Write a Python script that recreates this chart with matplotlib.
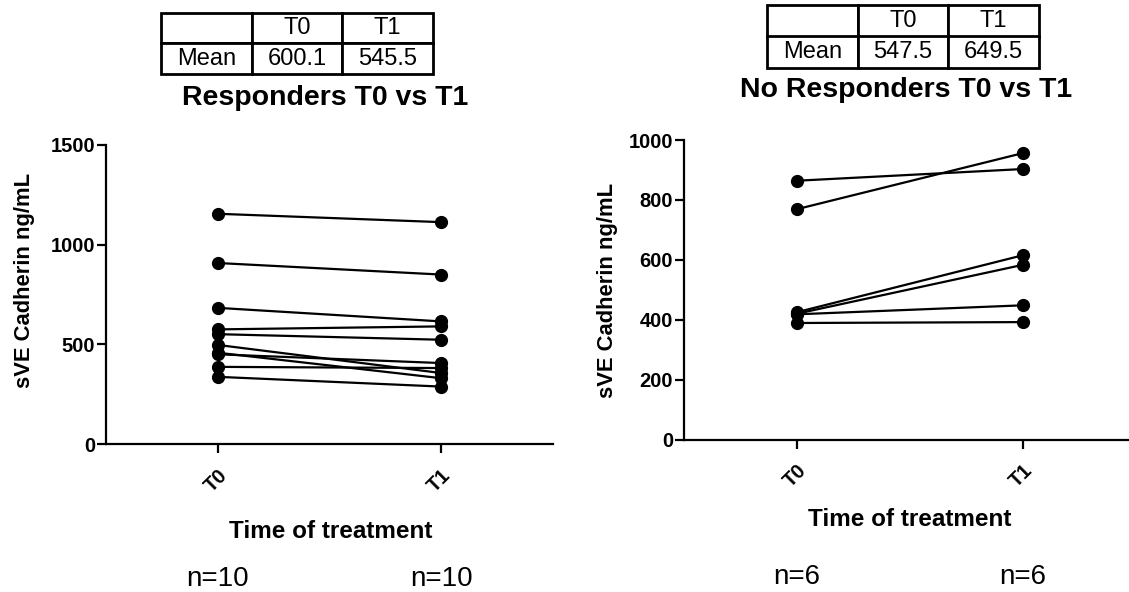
import matplotlib
matplotlib.use('Agg')
import matplotlib.pyplot as plt
import matplotlib.transforms as mtransforms

plt.rcParams['font.family'] = ['Liberation Sans', 'DejaVu Sans']

# Data
timepoints = ['T0', 'T1']

resp_t0 = [1155, 908, 683, 575, 551, 497, 458, 450, 387, 337]
resp_t1 = [1113, 850, 615, 590, 523, 356, 330, 406, 381, 288]

nonresp_t0 = [864, 769, 425, 420, 418, 389]
nonresp_t1 = [903, 956, 615, 583, 448, 392]

resp_means = ['600.1', '545.5']
nonresp_means = ['547.5', '649.5']

W, H = 1129, 592
fig = plt.figure(figsize=(W / 100, H / 100), dpi=100)


def px_axes(x0, y0, x1, y1):
    # pixel box (top-left origin) -> figure axes
    return fig.add_axes([x0 / W, 1 - y1 / H, (x1 - x0) / W, (y1 - y0) / H])


def pair_plot(ax, t0, t1, ymax, step):
    for a, b in zip(t0, t1):
        ax.plot([0, 1], [a, b], '-o', color='black', lw=1.6, ms=8.5,
                clip_on=False, zorder=3)
    ax.set_xlim(-0.5, 1.5)
    ax.set_ylim(0, ymax)
    ax.set_yticks(range(0, ymax + 1, step))
    ax.set_xticks([0, 1])
    ax.set_xticklabels(timepoints, rotation=45, ha='right', va='top',
                       rotation_mode='anchor', fontweight='bold', fontsize=14.5)
    for lab in ax.get_yticklabels():
        lab.set_fontweight('bold')
        lab.set_fontsize(14.5)
    ax.spines['top'].set_visible(False)
    ax.spines['right'].set_visible(False)
    ax.spines['left'].set_linewidth(1.6)
    ax.spines['bottom'].set_linewidth(1.6)
    ax.tick_params(axis='y', direction='out', length=6.5, width=1.6, pad=1.5)
    ax.tick_params(axis='x', direction='out', length=6.5, width=1.6, pad=9)


def mean_table(x0, y0, x1, y1, means):
    tax = px_axes(x0, y0, x1, y1)
    tax.axis('off')
    cells = [[''] + timepoints, ['Mean'] + means]
    tb = tax.table(cellText=cells, cellLoc='center', bbox=[0, 0, 1, 1])
    tb.auto_set_font_size(False)
    tb.set_fontsize(17)
    for cell in tb.get_celld().values():
        cell.set_linewidth(2)
        cell.set_edgecolor('black')
    return tax


# Left panel: responders
ax1 = px_axes(106, 145, 553, 444)
pair_plot(ax1, resp_t0, resp_t1, 1500, 500)

# Right panel: non responders
ax2 = px_axes(684, 140, 1135.5, 439.5)
pair_plot(ax2, nonresp_t0, nonresp_t1, 1000, 200)

mean_table(161, 13, 433, 74, resp_means)
mean_table(767, 5, 1039, 68, nonresp_means)

# Titles
fig.text(325 / W, 1 - 105 / H, 'Responders T0 vs T1', ha='center',
         va='baseline', fontsize=20.5, fontweight='bold')
fig.text(906 / W, 1 - 97 / H, 'No Responders T0 vs T1', ha='center',
         va='baseline', fontsize=20.5, fontweight='bold')

# Axis labels
fig.text(331 / W, 1 - 538 / H, 'Time of treatment', ha='center',
         va='baseline', fontsize=17.5, fontweight='bold')
fig.text(910 / W, 1 - 526 / H, 'Time of treatment', ha='center',
         va='baseline', fontsize=17.5, fontweight='bold')
fig.text(25 / W, 1 - 280 / H, 'sVE Cadherin ng/mL', rotation=90,
         ha='center', va='center', fontsize=15.8, fontweight='bold')
fig.text(607 / W, 1 - 290 / H, 'sVE Cadherin ng/mL', rotation=90,
         ha='center', va='center', fontsize=15.8, fontweight='bold')

# Sample size labels under each time point
for ax, nvals, base in [(ax1, ['n=10', 'n=10'], 586.5), (ax2, ['n=6', 'n=6'], 584)]:
    trans = mtransforms.blended_transform_factory(ax.transData, fig.transFigure)
    for xi, txt in enumerate(nvals):
        ax.text(xi, 1 - base / H, txt, transform=trans, ha='center',
                va='baseline', fontsize=20)

fig.savefig('out.png', dpi=100)
